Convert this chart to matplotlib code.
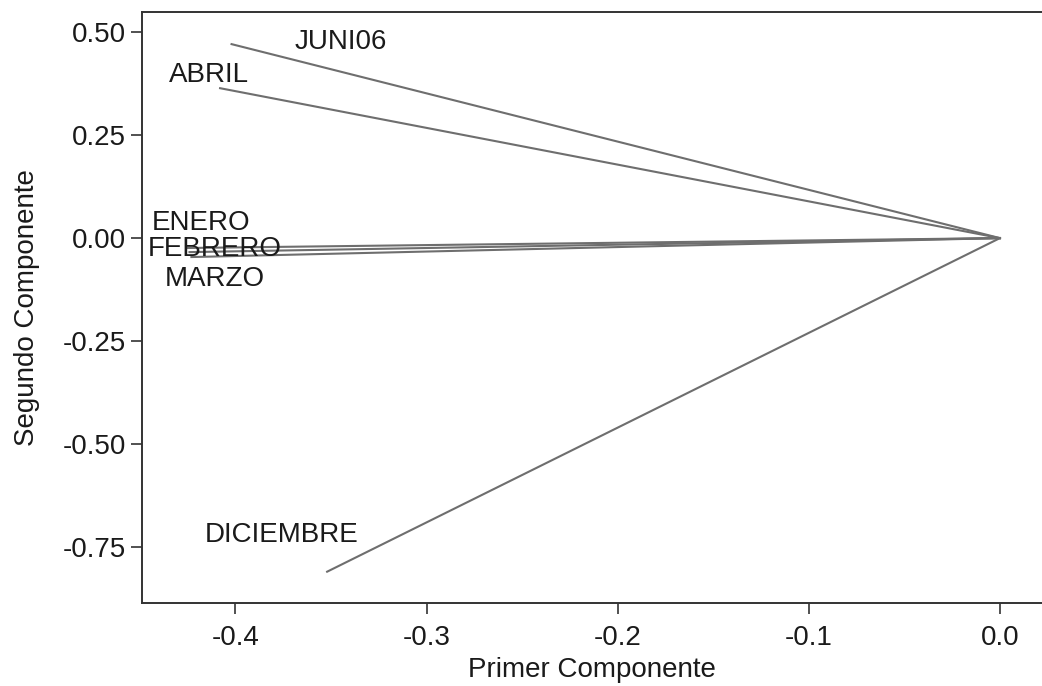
import matplotlib.pyplot as plt

plt.rcParams['font.family'] = ['Liberation Sans', 'DejaVu Sans']

# loadings (first, second component)
meses = ['JUNI06', 'ABRIL', 'ENERO', 'FEBRERO', 'MARZO', 'DICIEMBRE']
comp1 = [-0.402, -0.408, -0.425, -0.424, -0.423, -0.352]
comp2 = [0.471, 0.364, -0.024, -0.034, -0.046, -0.810]

# label anchor positions (data coords)
lab_x = [-0.345, -0.414, -0.418, -0.411, -0.411, -0.376]
lab_y = [0.475, 0.395, 0.037, -0.026, -0.100, -0.722]

fs = 20

fig = plt.figure(figsize=(10.42, 6.86), dpi=100)
ax = fig.add_axes([0.136, 0.121, 0.864, 0.8615])

for x, y in zip(comp1, comp2):
    ax.plot([0, x], [0, y], color='#6e6e6e', lw=1.5)

for name, x, y in zip(meses, lab_x, lab_y):
    ax.text(x, y, name, fontsize=fs, ha='center', va='center', color='#1a1a1a')

ax.set_xlim(-0.449, 0.022)
ax.set_ylim(-0.886, 0.549)
ax.set_xticks([-0.4, -0.3, -0.2, -0.1, 0.0])
ax.set_xticklabels(['-0.4', '-0.3', '-0.2', '-0.1', '0.0'])
ax.set_yticks([0.5, 0.25, 0.0, -0.25, -0.5, -0.75])
ax.set_yticklabels(['0.50', '0.25', '0.00', '-0.25', '-0.50', '-0.75'])
ax.tick_params(labelsize=fs, length=8, width=1.2, colors='#333333', labelcolor='#1a1a1a')
ax.tick_params(axis='x', pad=8)
ax.spines['right'].set_visible(False)
for s in ['left', 'bottom', 'top']:
    ax.spines[s].set_color('#333333')
    ax.spines[s].set_linewidth(1.4)

ax.set_xlabel('Primer Componente', fontsize=fs, color='#1a1a1a', labelpad=4)
ax.set_ylabel('Segundo Componente', fontsize=fs, color='#1a1a1a', labelpad=16)

fig.savefig('out.png', dpi=100)
